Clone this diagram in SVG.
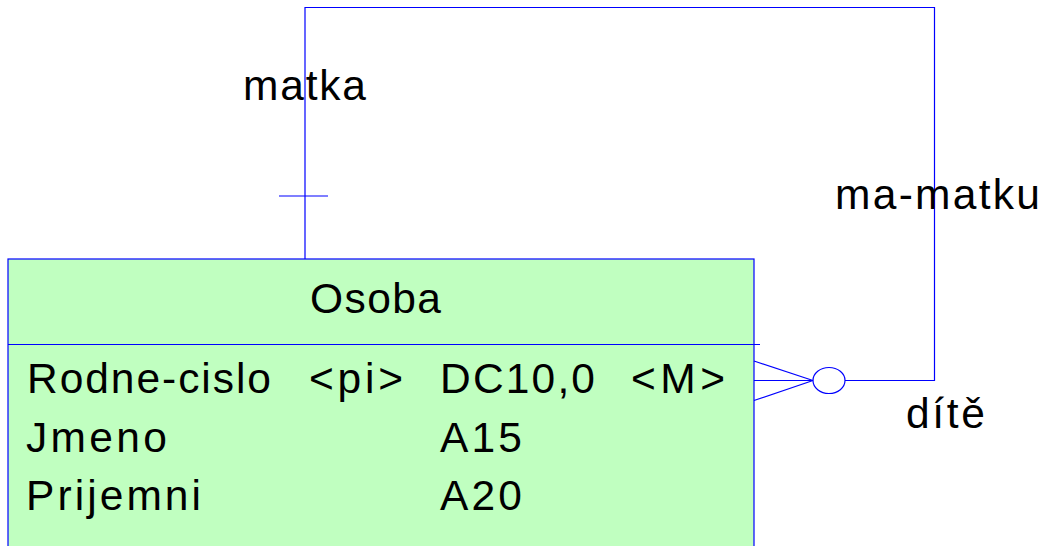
<svg xmlns="http://www.w3.org/2000/svg" width="1043" height="546" viewBox="0 0 1043 546">
<style>
.t{font-family:"Liberation Sans",Arial,sans-serif;font-size:42.5px;fill:#000}
.ln{fill:none;stroke:#0000ff;stroke-width:1.2}
</style>
<rect width="1043" height="546" fill="#fff"/>
<g id="osoba">
<rect x="8" y="259" width="746" height="300" fill="#c0ffc0" stroke="#0000ff" stroke-width="1.2"/>
<line x1="8" y1="344.5" x2="760" y2="344.5" class="ln"/>
<text class="t" x="310" y="313" textLength="131" lengthAdjust="spacing">Osoba</text>
<text class="t" x="27" y="393" textLength="244" lengthAdjust="spacing">Rodne-cislo</text>
<text class="t" x="309" y="393" textLength="94" lengthAdjust="spacing">&lt;pi&gt;</text>
<text class="t" x="440" y="393" textLength="155" lengthAdjust="spacing">DC10,0</text>
<text class="t" x="631" y="393" textLength="94" lengthAdjust="spacing">&lt;M&gt;</text>
<text class="t" x="26" y="452" textLength="141" lengthAdjust="spacing">Jmeno</text>
<text class="t" x="440" y="452" textLength="82" lengthAdjust="spacing">A15</text>
<text class="t" x="26" y="510" textLength="175" lengthAdjust="spacing">Prijemni</text>
<text class="t" x="440" y="510" textLength="82" lengthAdjust="spacing">A20</text>
</g>
<g id="connectors">
<polyline class="ln" points="305,259 305,7.5 934.5,7.5 934.5,380.5 845,380.5"/>
<line class="ln" x1="279" y1="196" x2="328" y2="196"/>
<ellipse class="ln" cx="829" cy="380.5" rx="16" ry="13"/>
<line class="ln" x1="754" y1="361" x2="813" y2="380.5"/>
<line class="ln" x1="754" y1="380.5" x2="813" y2="380.5"/>
<line class="ln" x1="754" y1="400.5" x2="813" y2="380.5"/>
<text class="t" x="243" y="100" textLength="123" lengthAdjust="spacing">matka</text>
<text class="t" x="835" y="209" textLength="205" lengthAdjust="spacing">ma-matku</text>
<text class="t" x="906" y="428" textLength="79" lengthAdjust="spacing">dítě</text>
</g>
</svg>
